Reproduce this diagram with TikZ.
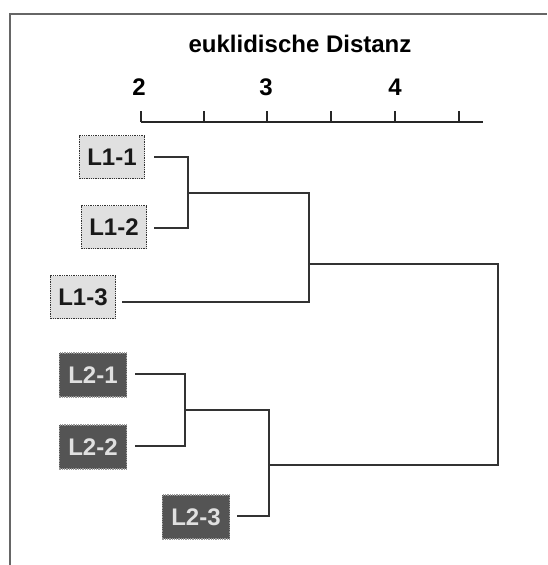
\documentclass[tikz,border=0pt]{standalone}
\usepackage{fontspec}
\setmainfont{Liberation Sans}
\begin{document}
\begin{tikzpicture}[x=1pt,y=-1pt,
  lab/.style={font=\fontsize{24}{28}\selectfont\bfseries},
  leafA/.style={lab, fill=black!12, draw=black!80, densely dotted, line width=1.3pt, minimum height=43pt, inner xsep=8pt, inner ysep=0pt, text=black!90},
  leafB/.style={lab, fill=black!67, draw=black!40, densely dotted, line width=1.3pt, minimum height=44pt, inner xsep=9pt, inner ysep=0pt, text=black!12},
  link/.style={draw=black!80, line width=2pt, line cap=rect},
  frame/.style={draw=black!60, line width=2pt},
]
\useasboundingbox (0,0) rectangle (547,565);
% frame
\draw[frame] (10,565) -- (10,14) -- (547,14);
% axis
\node[lab] (title) at (300,44) {euklidische Distanz};
\node[lab] (t2) at (139,87) {2};
\node[lab] (t3) at (266,87) {3};
\node[lab] (t4) at (395,87) {4};
\coordinate (ax0) at (141,122);
\coordinate (ax1) at (483,122);
\draw[line width=2.2pt, black!85] (ax0) -- (ax1);
\foreach \x in {141,204,267,331,395,459}
  \draw[line width=2pt, black!85] (\x,122) -- (\x,111);
% leaves
\node[leafA] (l11) at (112,157) {L1-1};
\node[leafA] (l12) at (114,227) {L1-2};
\node[leafA] (l13) at (83,297) {L1-3};
\node[leafB] (l21) at (93,375) {L2-1};
\node[leafB] (l22) at (93,447) {L2-2};
\node[leafB] (l23) at (196,517) {L2-3};
% leaf line starts
\coordinate (s11) at (155,157);
\coordinate (s12) at (155,228);
\coordinate (s13) at (123,302);
\coordinate (s21) at (136,374);
\coordinate (s22) at (136,446);
\coordinate (s23) at (238,516);
% junctions
\coordinate (ja) at (188,192.5);
\coordinate (jb) at (309,264);
\coordinate (jc) at (185,410);
\coordinate (jd) at (269,465);
\coordinate (root) at (498,264);
% links
\draw[link] (s11) -| (ja) |- (s12);
\draw[link] (ja) -- (ja -| jb) |- (s13);
\draw[link] (s21) -| (jc) |- (s22);
\draw[link] (jc) -- (jc -| jd) |- (s23);
\draw[link] (jb) -| (root) |- (jd);
\end{tikzpicture}
\end{document}
